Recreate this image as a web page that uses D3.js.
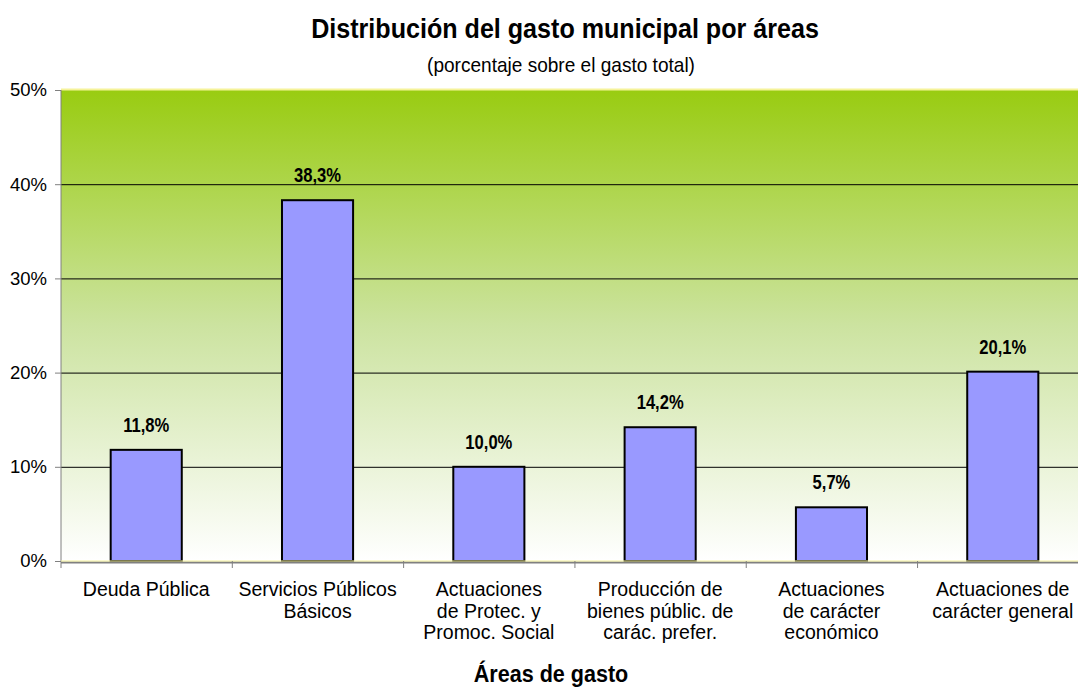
<!DOCTYPE html>
<html>
<head>
<meta charset="utf-8">
<script src="https://cdn.jsdelivr.net/npm/d3@7"></script>
<style>
  body { margin: 0; background: #fff; overflow: hidden; }
  svg { display: block; }
  text { font-family: "Liberation Sans", Arial, sans-serif; fill: #000; }
</style>
</head>
<body>
<div id="container"></div>
<script>
// data
const categories = [
    ["Deuda Pública"],
    ["Servicios Públicos", "Básicos"],
    ["Actuaciones", "de Protec. y", "Promoc. Social"],
    ["Producción de", "bienes públic. de", "carác. prefer."],
    ["Actuaciones", "de carácter", "económico"],
    ["Actuaciones de", "carácter general"]
];
const values = [11.8, 38.3, 10.0, 14.2, 5.7, 20.1];
const yTicks = [0, 10, 20, 30, 40, 50];

const width = 1078, height = 689;
const margin = { top: 90, left: 61, bottom: 128 };
const plotRight = 1088;   // plot runs past the window edge in the original

const svg = d3.select("#container").append("svg")
    .attr("width", width)
    .attr("height", height);

const defs = svg.append("defs");
const grad = defs.append("linearGradient")
    .attr("id", "bg")
    .attr("x1", 0).attr("y1", 0).attr("x2", 0).attr("y2", 1);
grad.append("stop").attr("offset", "0%").attr("stop-color", "#99cc11");
grad.append("stop").attr("offset", "50%").attr("stop-color", "#cce3a0");
grad.append("stop").attr("offset", "100%").attr("stop-color", "#ffffff");

const x = d3.scaleBand()
    .domain(d3.range(categories.length))
    .range([margin.left, plotRight])
    .paddingInner(0.585)
    .paddingOuter(0.29);

const y = d3.scaleLinear()
    .domain([0, 50])
    .range([height - margin.bottom, margin.top]);

// narrow text helper: scale horizontally around the anchor point
function narrowText(g, tx, ty, sx, txt) {
    return g.append("text")
        .attr("transform", `translate(${tx},${ty}) scale(${sx},1)`)
        .attr("text-anchor", "middle")
        .text(txt);
}

// plot background
svg.append("rect")
    .attr("x", margin.left)
    .attr("y", y(50))
    .attr("width", plotRight - margin.left)
    .attr("height", y(0) - y(50))
    .attr("fill", "url(#bg)");

svg.append("line")
    .attr("x1", margin.left).attr("x2", plotRight)
    .attr("y1", y(50) - 0.5).attr("y2", y(50) - 0.5)
    .attr("stroke", "#f6f39a").attr("stroke-width", 2);

// gridlines
svg.append("g")
    .selectAll("line")
    .data(yTicks.filter(d => d > 0 && d < 50))
    .join("line")
    .attr("x1", margin.left).attr("x2", plotRight)
    .attr("y1", d => y(d) + 0.5).attr("y2", d => y(d) + 0.5)
    .attr("stroke", "#000").attr("stroke-width", 1);

// y axis
const yAxis = svg.append("g")
    .attr("transform", `translate(${margin.left},0)`)
    .call(d3.axisLeft(y).tickValues(yTicks).tickFormat(d => d + "%").tickSize(6).tickPadding(8));
yAxis.select(".domain").attr("stroke", "#808080").attr("d", `M0,${y(50)}V${y(0) + 7}`);
yAxis.selectAll(".tick line").attr("stroke", "#808080");
yAxis.selectAll("text")
    .attr("font-size", 18.5)
    .attr("fill", "#000");

// bars
svg.append("g")
    .selectAll("rect")
    .data(values)
    .join("rect")
    .attr("x", (d, i) => x(i))
    .attr("y", d => y(d))
    .attr("width", x.bandwidth())
    .attr("height", d => y(0) - y(d))
    .attr("fill", "#9999ff")
    .attr("stroke", "#000")
    .attr("stroke-width", 2);

// x axis baseline
svg.append("line")
    .attr("x1", margin.left).attr("x2", plotRight)
    .attr("y1", y(0) + 1.5).attr("y2", y(0) + 1.5)
    .attr("stroke", "#808080").attr("stroke-width", 2);
svg.append("line")
    .attr("x1", margin.left).attr("x2", plotRight)
    .attr("y1", y(0)).attr("y2", y(0))
    .attr("stroke", "#f6f39a").attr("stroke-width", 1);

// category separators
svg.append("g")
    .selectAll("line")
    .data(d3.range(1, categories.length + 1))
    .join("line")
    .attr("x1", i => margin.left + i * x.step())
    .attr("x2", i => margin.left + i * x.step())
    .attr("y1", y(0)).attr("y2", y(0) + 7)
    .attr("stroke", "#808080").attr("stroke-width", 1);

// category labels
svg.append("g")
    .selectAll("text")
    .data(categories)
    .join("text")
    .attr("font-size", 19.5)
    .attr("text-anchor", "middle")
    .attr("transform", (d, i) => `translate(${x(i) + x.bandwidth() / 2},${y(0) + 35})`)
    .selectAll("tspan")
    .data(d => d)
    .join("tspan")
    .attr("x", 0)
    .attr("dy", (d, i) => i == 0 ? 0 : 21.5)
    .text(d => d);

// value labels
const vals = svg.append("g")
    .attr("font-weight", "bold")
    .attr("font-size", 21);
values.forEach((d, i) => {
    narrowText(vals, x(i) + x.bandwidth() / 2, y(d) - 18, 0.79, d.toFixed(1).replace(".", ",") + "%");
});

// titles
narrowText(svg, 565, 38, 0.93, "Distribución del gasto municipal por áreas")
    .attr("font-weight", "bold")
    .attr("font-size", 27);

narrowText(svg, 561, 72, 0.93, "(porcentaje sobre el gasto total)")
    .attr("font-size", 20.5);

narrowText(svg, 551, 682, 0.88, "Áreas de gasto")
    .attr("font-weight", "bold")
    .attr("font-size", 24.5);
</script>
</body>
</html>
